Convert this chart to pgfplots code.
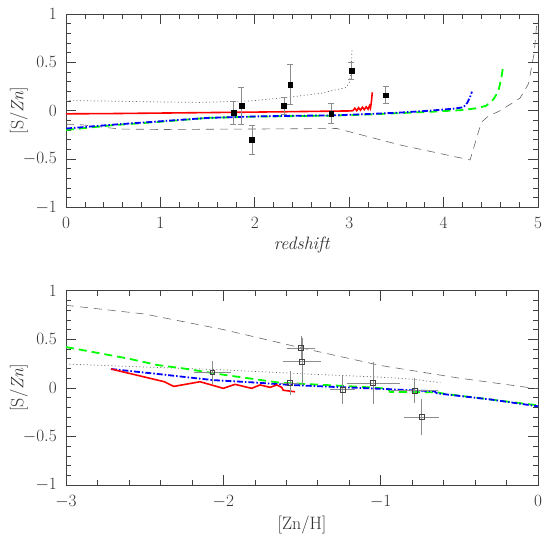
\documentclass[border=0pt]{standalone}
\usepackage{pgfplots}
\pgfplotsset{compat=1.18}
\begin{document}
\begin{tikzpicture}
\path[use as bounding box] (0,0) rectangle (550bp,-539bp);
\pgfplotsset{
  myaxis/.style={
    scale only axis, width=472bp,
    ymin=-1, ymax=1,
    ytick={-1,-0.5,0,0.5,1},
    minor x tick num=4, minor y tick num=4,
    tick align=inside,
    major tick length=10bp, minor tick length=5bp,
    axis line style={black!75, line width=0.7bp},
    every tick/.style={black!75, line width=0.6bp},
    tick label style={font=\fontsize{16}{18}\selectfont, text=black!80, inner sep=1bp},
    yticklabel style={xshift=-8bp},
    xticklabel style={yshift=-9bp},
    label style={font=\fontsize{18}{20}\selectfont, text=black!80},
    ylabel style={at={(axis description cs:-0.1,0.5)}, anchor=center},
    clip=true,
  },
  gdash/.style={black!60, line width=0.6bp, dash pattern=on 8bp off 6bp},
  gdot/.style={black!60, line width=0.7bp, dash pattern=on 1bp off 2.5bp},
  grn/.style={green, line width=1.8bp, dash pattern=on 8bp off 5bp},
  blu/.style={blue, line width=1.8bp, dash pattern=on 6bp off 2bp on 1.5bp off 2bp},
  rd/.style={red, line width=1.6bp},
}
% ---------------- top panel ----------------
\begin{axis}[myaxis, height=193.3bp,
  at={(66bp,-207.3bp)}, anchor=south west,
  xmin=0, xmax=5, xtick={0,1,2,3,4,5},
  xlabel={\textit{redshift}},
  xlabel style={at={(axis description cs:0.5,-0.195)}, anchor=center},
  ylabel={[S/\textit{Zn}]},
]
\addplot[gdash] coordinates {(0,-0.14) (0.15,-0.145) (0.57,-0.19) (1.0,-0.195) (2.0,-0.19) (2.87,-0.185) (3.54,-0.355) (4.28,-0.51) (4.40,-0.12) (4.47,-0.06) (4.6,0.0) (4.81,0.13) (4.9,0.28) (4.96,0.6) (4.985,0.88)};
\addplot[gdot] coordinates {(0,0.105) (0.5,0.098) (1,0.09) (1.42,0.085) (1.95,0.10) (2.37,0.14) (2.7,0.18) (2.97,0.24) (3.0,0.29) (3.02,0.39) (3.03,0.645)};
\addplot[grn] coordinates {(0,-0.20) (0.5,-0.15) (1,-0.115) (1.5,-0.075) (2,-0.062) (2.5,-0.055) (2.8,-0.052) (3.2,-0.04) (3.54,-0.025) (3.9,-0.01) (4.21,0.007) (4.35,0.025) (4.45,0.05) (4.53,0.12) (4.58,0.2) (4.61,0.33) (4.635,0.48)};
\addplot[blu] coordinates {(0,-0.185) (0.5,-0.145) (1,-0.11) (1.5,-0.075) (2,-0.06) (2.5,-0.052) (2.8,-0.05) (3.2,-0.035) (3.54,-0.02) (3.86,0.0) (4.1,0.02) (4.21,0.035) (4.25,0.08) (4.28,0.14) (4.30,0.196)};
\addplot[rd] coordinates {(0,-0.033) (0.5,-0.03) (1,-0.025) (1.5,-0.02) (2,-0.015) (2.5,-0.009) (3.0,-0.003) (3.04,0.0) (3.06,0.025) (3.08,0.0) (3.10,0.03) (3.12,0.005) (3.14,0.035) (3.16,0.01) (3.18,0.04) (3.20,0.015) (3.215,0.05) (3.225,0.025) (3.235,0.09) (3.245,0.19)};
\addplot[only marks, mark=square*, mark size=2.4bp, black,
  error bars/.cd, y dir=both, y explicit,
  error bar style={black!45, line width=0.8bp},
  error mark options={rotate=90, mark size=3bp, black!45, line width=0.8bp}]
  table[x=x, y=y, y error=ey] {
x y ey
1.773 -0.02 0.12
1.859 0.05 0.19
1.970 -0.30 0.15
2.309 0.05 0.09
2.375 0.27 0.21
2.810 -0.03 0.10
3.024 0.41 0.09
3.387 0.16 0.09
};
\end{axis}
% ---------------- bottom panel ----------------
\begin{axis}[myaxis, height=194.3bp,
  at={(66bp,-485bp)}, anchor=south west,
  xmin=-3, xmax=0, xtick={-3,-2,-1,0},
  xlabel={[Zn/H]},
  xlabel style={at={(axis description cs:0.5,-0.206)}, anchor=center},
  ylabel={[S/\textit{Zn}]},
]
\addplot[gdash] coordinates {(-3,0.85) (-2.5,0.76) (-2.0,0.60) (-1.5,0.41) (-1.0,0.23) (-0.5,0.10) (0,-0.01)};
\addplot[gdot] coordinates {(-3,0.245) (-2.5,0.215) (-2.0,0.185) (-1.5,0.145) (-1.0,0.11) (-0.8,0.09) (-0.62,0.053)};
\addplot[grn] coordinates {(-3,0.42) (-2.6,0.30) (-2.42,0.235) (-2.254,0.20) (-1.979,0.13) (-1.64,0.053) (-1.3,0.025) (-1.068,0.005) (-0.95,-0.01) (-0.94,-0.043) (-0.64,-0.045) (-0.6,-0.06) (-0.3,-0.12) (0,-0.18)};
\addplot[blu] coordinates {(-2.714,0.194) (-2.4,0.14) (-2.068,0.08) (-1.8,0.055) (-1.576,0.03) (-1.3,0.01) (-1.068,-0.005) (-0.8,-0.025) (-0.66,-0.035) (-0.64,-0.057) (-0.3,-0.12) (0,-0.19)};
\addplot[rd] coordinates {(-2.714,0.194) (-2.375,0.063) (-2.315,0.015) (-2.148,0.063) (-2.0,-0.005) (-1.926,0.036) (-1.82,-0.005) (-1.767,0.03) (-1.703,0.005) (-1.66,0.03) (-1.629,0.005) (-1.619,-0.025) (-1.544,-0.04)};
\addplot[only marks, mark=square, mark size=2.4bp, black!75, mark options={line width=0.7bp},
  error bars/.cd, x dir=both, x explicit, y dir=both, y explicit,
  error bar style={black!45, line width=0.8bp},
  error mark options={mark size=3bp, black!45, line width=0.8bp}]
  table[x=x, y=y, x error=ex, y error=ey] {
x y ex ey
-2.07 0.16 0.10 0.09
-1.575 0.05 0.04 0.09
-1.505 0.41 0.07 0.09
-1.50 0.27 0.10 0.21
-1.242 -0.02 0.06 0.12
-1.048 0.05 0.15 0.19
-0.785 -0.03 0.13 0.10
-0.740 -0.30 0.09 0.15
};
\end{axis}
\end{tikzpicture}
\end{document}
